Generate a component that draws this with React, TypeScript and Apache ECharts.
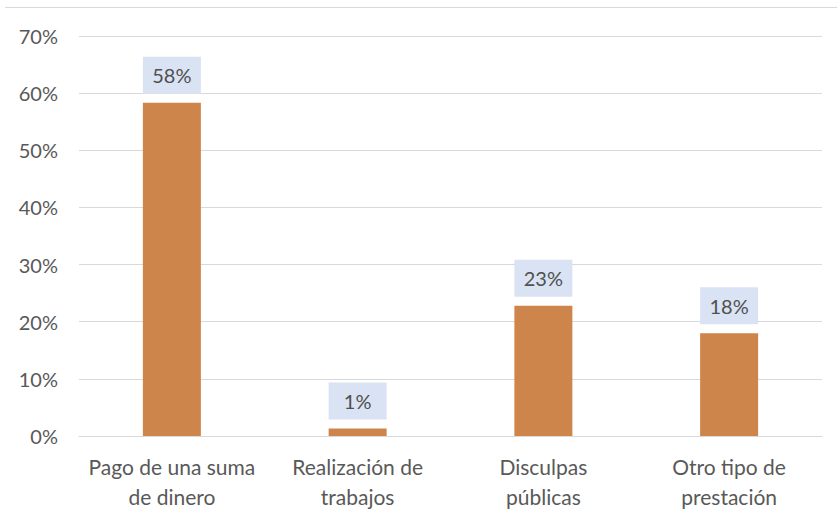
import React, { useEffect, useRef } from "react";
import * as echarts from "echarts";

const categories = ["Pago de una suma\nde dinero", "Realización de\ntrabajos", "Disculpas\npúblicas", "Otro tipo de\nprestación"];
const values = [58.3, 1.3, 22.8, 18.0];
const yTicks = [0, 10, 20, 30, 40, 50, 60, 70];

const FONT = "Lato";

export default function App() {
  const ref = useRef<HTMLDivElement>(null);
  useEffect(() => {
    const chart = echarts.init(ref.current!, undefined, { renderer: "svg" });
    chart.setOption({
      animation: false,
      grid: { left: 79, right: 15, top: 36, bottom: 87 },
      graphic: [
        { type: "line", shape: { x1: 5, y1: 7.5, x2: 837, y2: 7.5 }, style: { stroke: "#D9D9D9", lineWidth: 1 } },
      ],
      xAxis: {
        type: "category",
        data: categories,
        axisLine: { lineStyle: { color: "#D9D9D9" } },
        axisTick: { show: false },
        axisLabel: { color: "#595959", fontSize: 21, fontFamily: FONT, lineHeight: 30, margin: 15, interval: 0 },
      },
      yAxis: {
        type: "value",
        min: yTicks[0],
        max: yTicks[yTicks.length - 1],
        interval: 10,
        axisLine: { show: false },
        axisTick: { show: false },
        splitLine: { lineStyle: { color: "#D9D9D9" } },
        axisLabel: { color: "#595959", fontSize: 20, fontFamily: FONT, margin: 21, formatter: (v: number) => v + "%" },
      },
      series: [
        {
          type: "bar",
          data: values,
          barWidth: 58,
          itemStyle: { color: "#CD854B" },
          label: {
            show: true,
            position: "top",
            distance: 9,
            formatter: (p: any) => Math.round(p.value) + "%",
            color: "#505050",
            fontSize: 20,
            fontFamily: FONT,
            backgroundColor: "#DAE3F3",
            width: 58,
            align: "center",
            lineHeight: 19,
            padding: [9, 0, 9, 0],
          },
        },
      ],
    });
    return () => chart.dispose();
  }, []);
  return <div ref={ref} style={{ position: "absolute", left: 0, top: 0, width: 837, height: 523 }} />;
}
